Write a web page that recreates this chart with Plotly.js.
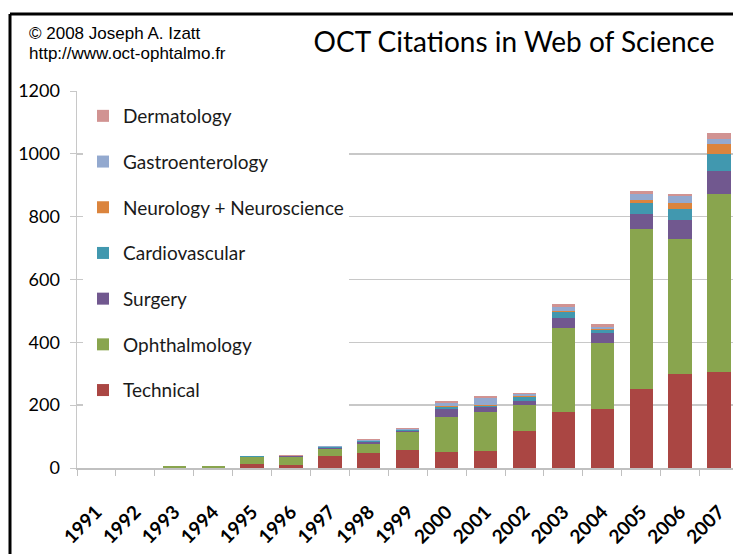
<!DOCTYPE html>
<html>
<head>
<meta charset="utf-8">
<script src="https://cdn.plot.ly/plotly-3.0.1.min.js"></script>
<style>html,body{margin:0;padding:0;background:#fff;}#chart{width:733px;height:554px;}</style>
</head>
<body>
<div id="chart"></div>
<script>
var years = ["1991","1992","1993","1994","1995","1996","1997","1998","1999","2000","2001","2002","2003","2004","2005","2006","2007"];
var technical      = [0,0,1,1,13,10,37,48,57,51,54,118,177,188,251,299,304];
var ophthalmology  = [0,0,4,4,22,26,24,27,58,111,125,82,270,210,511,430,569];
var surgery        = [0,0,0,0,1,1,4,7,4,26,15,13,30,31,45,59,72];
var cardiovascular = [0,0,0,0,1,1,3,3,3,6,4,12,21,9,35,37,55];
var neurology      = [0,0,0,0,0,0,0,1,0,2,2,3,3,4,12,20,31];
var gastro         = [0,0,0,0,2,1,3,3,3,10,24,6,13,8,19,20,17];
var dermatology    = [0,0,0,0,0,1,0,2,1,6,6,5,7,8,8,8,17];

var seriesNames = ["Technical","Ophthalmology","Surgery","Cardiovascular","Neurology + Neuroscience","Gastroenterology","Dermatology"];
var seriesValues = [technical, ophthalmology, surgery, cardiovascular, neurology, gastro, dermatology];
var colors = ["#AA4643","#89A54E","#71588F","#4198AF","#DB843D","#93A9CF","#D19392"];

var traces = seriesNames.map(function(n, i){
  return {type:"bar", name:n, x:years, y:seriesValues[i], legendgroup:"g"+i, legendrank: 100 - i,
          marker:{color:colors[i], line:{width:0}}, hoverinfo:"name+y"};
});

var W = 733, H = 554, L = 77, T = 91, B = 86;
var pw = W - L, ph = H - T - B;
function px(x){ return (x - L)/pw; }
function py(y){ return (H - B - y)/ph; }

var layout = {
  width: W, height: H,
  margin: {l:L, r:0, t:T, b:B, pad:0},
  paper_bgcolor:"#ffffff", plot_bgcolor:"#ffffff",
  barmode:"stack", bargap:0.4,
  showlegend:true,
  title:{text:"OCT Citations in Web of Science", font:{family:"Lato, Open Sans, sans-serif", size:28, color:"#000"},
         xref:"paper", x:px(514), xanchor:"center", yref:"container", y:1-42/H, yanchor:"middle"},
  xaxis:{type:"category", range:[-0.5, 16.36], tickangle:-45, ticks:"outside", ticklen:6, tickcolor:"#c0c0c0",
         tickson:"boundaries", showline:true, linecolor:"#c0c0c0", linewidth:1.5, showgrid:false,
         tickfont:{family:"Lato, sans-serif", size:19, color:"#000", weight:"bold"}, ticklabelstandoff:24,
         fixedrange:true},
  yaxis:{range:[0,1200], dtick:200, tick0:0, showgrid:true, gridcolor:"#c8c8c8", gridwidth:1.5,
         showline:true, linecolor:"#c8c8c8", linewidth:1.5, ticks:"outside", ticklen:6, tickcolor:"#c8c8c8",
         zeroline:false, tickfont:{family:"Lato, sans-serif", size:18, color:"#000"}, ticklabelstandoff:6,
         fixedrange:true},
  legend:{x:px(83), xanchor:"left", y:py(97), yanchor:"top", bgcolor:"#ffffff", borderwidth:0,
          traceorder:"grouped", tracegroupgap:18,
          font:{family:"Lato, sans-serif", size:19, color:"#1a1a1a"}},
  annotations:[
    {text:"© 2008 Joseph A. Izatt", xref:"paper", yref:"paper", x:px(27), y:py(33), xanchor:"left", yanchor:"middle",
     showarrow:false, font:{family:"Liberation Sans, Arial, sans-serif", size:17, color:"#000"}},
    {text:"http://www.oct-ophtalmo.fr", xref:"paper", yref:"paper", x:px(27), y:py(54), xanchor:"left", yanchor:"middle",
     showarrow:false, font:{family:"Liberation Sans, Arial, sans-serif", size:17, color:"#000"}}
  ],
  shapes:[
    {type:"line", xref:"paper", yref:"paper", x0:px(10), x1:px(740), y0:py(14), y1:py(14), line:{color:"#000", width:3}},
    {type:"line", xref:"paper", yref:"paper", x0:px(10), x1:px(10), y0:py(14), y1:py(560), line:{color:"#000", width:3}}
  ]
};

Plotly.newPlot("chart", traces, layout, {displayModeBar:false, staticPlot:true});
</script>
</body>
</html>
